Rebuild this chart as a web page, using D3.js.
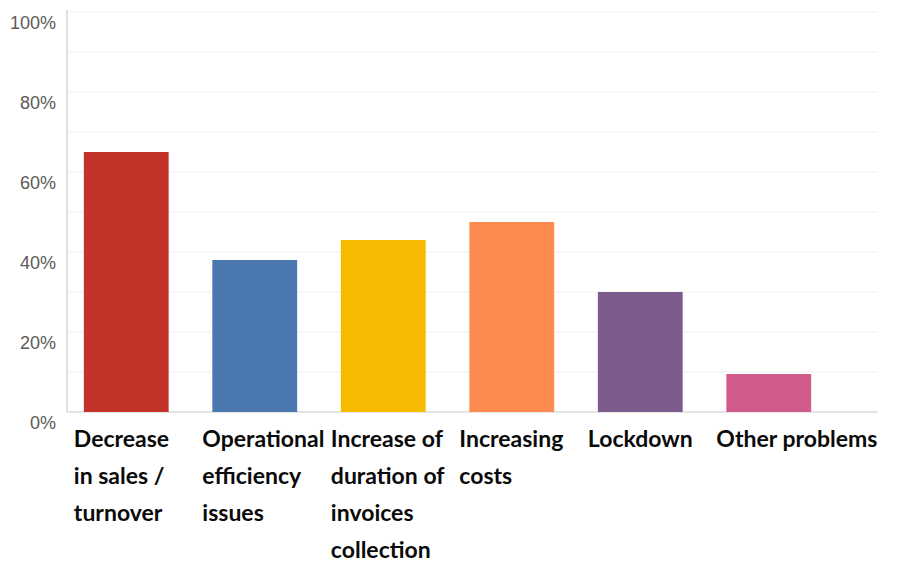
<!DOCTYPE html>
<html>
<head>
<meta charset="utf-8">
<script src="https://cdn.jsdelivr.net/npm/d3@7"></script>
<style>
  html, body { margin: 0; padding: 0; background: #fff; }
  svg { display: block; }
</style>
</head>
<body>
<svg id="chart" width="900" height="565"></svg>
<script>
// Problems reported by businesses (share of respondents)
const categories = [
  "Decrease in sales / turnover",
  "Operational efficiency issues",
  "Increase of duration of invoices collection",
  "Increasing costs",
  "Lockdown",
  "Other problems"
];
const labelLines = [
  ["Decrease", "in sales /", "turnover"],
  ["Operational", "efficiency", "issues"],
  ["Increase of", "duration of", "invoices", "collection"],
  ["Increasing", "costs"],
  ["Lockdown"],
  ["Other problems"]
];
const values = [65, 38, 43, 47.5, 30, 9.5];
const colors = ["#c3332a", "#4b78b0", "#f6bb00", "#fd8a4e", "#7a5b8c", "#d15c8b"];
const yTicks = [0, 20, 40, 60, 80, 100];
const gridTicks = [0, 10, 20, 30, 40, 50, 60, 70, 80, 90, 100];

const svg = d3.select("#chart");
const plot = { left: 67, right: 878, top: 12, bottom: 412 };

const y = d3.scaleLinear().domain([0, 100]).range([plot.bottom, plot.top]);
const x = d3.scaleBand()
  .domain(categories)
  .range([62, 833])
  .paddingInner(0.34)
  .paddingOuter(0.17);

// horizontal gridlines every 10%
svg.append("g")
  .selectAll("line")
  .data(gridTicks)
  .join("line")
  .attr("x1", plot.left).attr("x2", plot.right)
  .attr("y1", d => y(d)).attr("y2", d => y(d))
  .attr("stroke", d => d === 0 ? "#dcdcdc" : "#efefef")
  .attr("stroke-width", d => d === 0 ? 1.5 : 1.2);

// vertical axis line
svg.append("line")
  .attr("x1", plot.left).attr("x2", plot.left)
  .attr("y1", y(100) - 2).attr("y2", y(0))
  .attr("stroke", "#d6d6d6")
  .attr("stroke-width", 1.5);

// y-axis percentage labels (sit just below their gridline)
svg.append("g")
  .selectAll("text")
  .data(yTicks)
  .join("text")
  .attr("x", 56)
  .attr("y", d => y(d) + 17)
  .attr("text-anchor", "end")
  .attr("font-family", "Liberation Sans, Arial, sans-serif")
  .attr("font-size", 18)
  .attr("fill", "#5a5a5a")
  .text(d => d + "%");

// bars
svg.append("g")
  .selectAll("rect")
  .data(categories)
  .join("rect")
  .attr("x", d => x(d))
  .attr("width", x.bandwidth())
  .attr("y", (d, i) => y(values[i]))
  .attr("height", (d, i) => y(0) - y(values[i]))
  .attr("fill", (d, i) => colors[i]);

// category labels, wrapped over several lines
const lab = svg.append("g")
  .selectAll("text")
  .data(categories)
  .join("text")
  .attr("x", d => x(d) - 10)
  .attr("y", 447)
  .attr("font-family", "Lato, 'Open Sans', sans-serif")
  .attr("font-weight", 700)
  .attr("font-size", 23)
  .attr("fill", "#0a0a0a");
lab.each(function(d, i) {
  const t = d3.select(this);
  labelLines[i].forEach((line, k) => {
    t.append("tspan")
      .attr("x", x(d) - 10)
      .attr("dy", k === 0 ? 0 : 37)
      .text(line);
  });
});
</script>
</body>
</html>
